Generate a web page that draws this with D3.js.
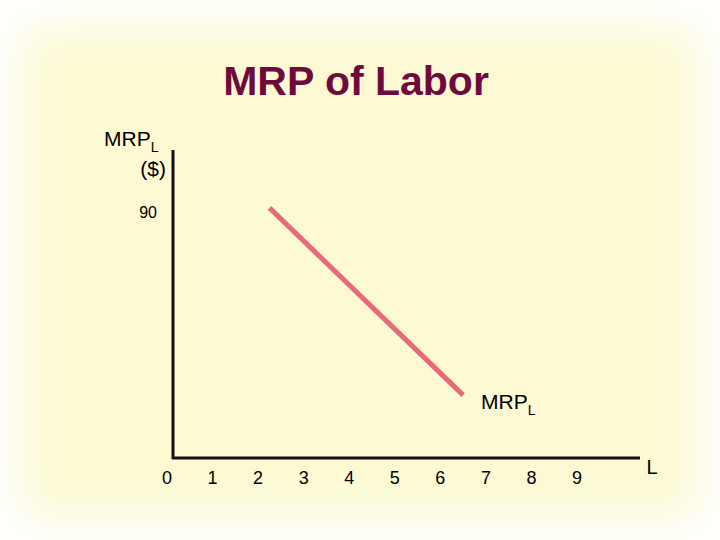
<!DOCTYPE html>
<html><head><meta charset="utf-8">
<script src="https://cdn.jsdelivr.net/npm/d3@7"></script>
<style>body{margin:0;background:#fff}svg{display:block}text{font-family:"Liberation Sans",Arial,sans-serif}</style>
</head><body>
<script>
const xTicks = [0, 1, 2, 3, 4, 5, 6, 7, 8, 9];
const yTicks = [90];
const mrpLine = [[2.25, 91.5], [6.5, 23]];

const W = 720, H = 540;
const svg = d3.select("body").append("svg").attr("width", W).attr("height", H);
const defs = svg.append("defs");
const f = defs.append("filter").attr("id", "blur").attr("x", "-20%").attr("y", "-20%").attr("width", "140%").attr("height", "140%");
f.append("feGaussianBlur").attr("stdDeviation", 22);
svg.append("rect").attr("width", W).attr("height", H).attr("fill", "#fff");
svg.append("rect").attr("x", 22).attr("y", 28).attr("width", 676).attr("height", 490)
  .attr("fill", "#fcf9d3").attr("filter", "url(#blur)");

const x = d3.scaleLinear().domain([0, 9]).range([167, 577]);
const y = d3.scaleLinear().domain([0, 90]).range([458, 212]);

svg.append("text").attr("x", 356).attr("y", 95).attr("text-anchor", "middle")
  .attr("font-size", 41).attr("font-weight", "bold").attr("fill", "#6e0a3c").text("MRP of Labor");

// axes
svg.append("line").attr("x1", 173).attr("x2", 173).attr("y1", 150).attr("y2", 459).attr("stroke", "#111").attr("stroke-width", 3);
svg.append("line").attr("x1", 172).attr("x2", 640).attr("y1", 458).attr("y2", 458).attr("stroke", "#111").attr("stroke-width", 3);

svg.selectAll(".xt").data(xTicks).join("text").attr("class", "xt")
  .attr("x", d => x(d)).attr("y", 484).attr("text-anchor", "middle").attr("font-size", 18).text(d => d);
svg.append("text").attr("x", 652).attr("y", 474).attr("text-anchor", "middle").attr("font-size", 20).text("L");

svg.selectAll(".yt").data(yTicks).join("text").attr("class", "yt")
  .attr("x", 157).attr("y", d => y(d) + 6).attr("text-anchor", "end").attr("font-size", 16).text(d => d);

const lab = svg.append("text").attr("x", 104).attr("y", 146).attr("font-size", 21);
lab.append("tspan").text("MRP");
lab.append("tspan").attr("font-size", 14).attr("dy", 6).text("L");
svg.append("text").attr("x", 166).attr("y", 176).attr("text-anchor", "end").attr("font-size", 21).text("($)");

svg.append("path").datum(mrpLine)
  .attr("d", d3.line().x(d => x(d[0])).y(d => y(d[1])))
  .attr("stroke", "#e8697a").attr("stroke-width", 5).attr("fill", "none");

const lab2 = svg.append("text").attr("x", 481).attr("y", 409).attr("font-size", 21);
lab2.append("tspan").text("MRP");
lab2.append("tspan").attr("font-size", 14).attr("dy", 6).text("L");
</script>
</body></html>
